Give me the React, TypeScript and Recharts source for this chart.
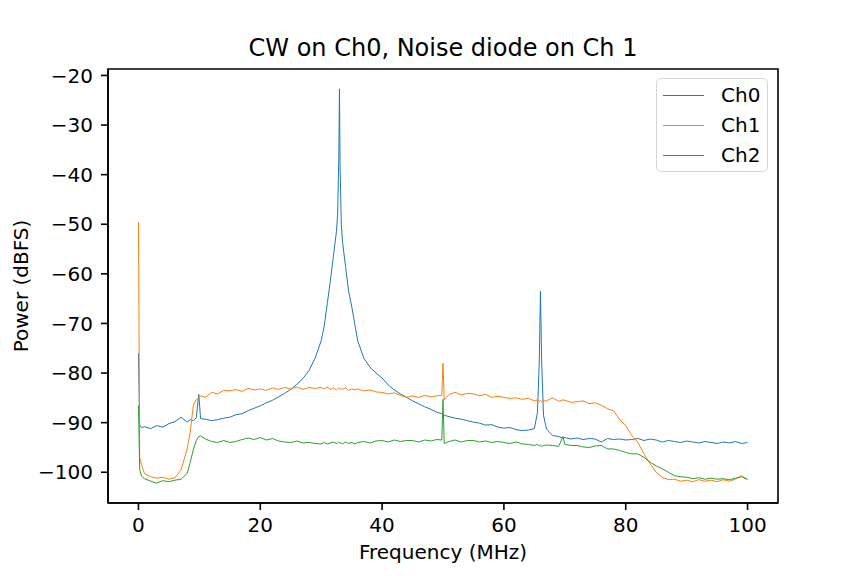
import { Label, Legend, Line, LineChart, ReferenceArea, XAxis, YAxis } from "recharts";

// frequency grid (MHz), denser around the narrow spikes
const freq = [
  0, 0.2, 0.5, 1, 2, 3, 4, 5, 6, 7, 8, 8.5, 9, 9.5, 9.9, 10.2,
  11, 12, 13, 14, 15, 16, 17, 18, 19, 20, 21, 22, 23, 24, 25, 26, 27, 28, 29, 30,
  30.5, 31, 31.5, 32, 32.5, 32.7, 32.9, 33, 33.1, 33.3, 33.5, 34, 34.5, 35, 35.5, 36,
  37, 38, 39, 40, 41, 42, 43, 44, 45, 46, 47, 48, 49,
  49.8, 50, 50.2,
  51, 52, 53, 54, 55, 56, 57, 58, 59, 60, 61, 62, 63, 64, 65,
  65.5, 65.8, 66, 66.2, 66.5,
  67, 68, 69, 69.7,
  70, 71, 72, 73, 74, 75, 76, 77, 78, 79, 80, 81, 82, 83, 84, 85, 86, 87, 88, 89, 90,
  91, 92, 93, 94, 95, 96, 97, 98, 99, 100
];

const ch0 = [
  -76, -90.5, -91, -90.8, -91.2, -90.6, -90.9, -90.2, -89.8, -88.9, -89.9, -89.4, -89.6, -89.0, -84.3, -89.2,
  -89.3, -89.6, -89.4, -89.1, -88.9, -88.4, -88.2, -87.6, -87.1, -86.6, -86.0, -85.5, -84.8, -84.1, -83.3, -82.3, -81.1, -79.5, -77.0, -73.5,
  -70.5, -66, -61.5, -56.5, -51.5, -48, -36, -22.7, -38, -50, -53.5, -58.5, -63.5, -66.5, -70, -73.5,
  -77, -78.8, -80.0, -81.0, -82.4, -83.4, -84.2, -84.9, -85.6, -86.2, -86.8, -87.3, -87.9,
  -88.2, -88.4, -88.5,
  -88.8, -89.1, -89.3, -89.6, -89.9, -90.1, -90.5, -90.4, -90.9, -91.1, -91.0, -91.4, -91.6, -91.5, -91.2,
  -88, -78, -63.5, -78, -88.5,
  -91.3, -92.6, -92.8, -93.1,
  -93.0, -93.3, -93.1, -93.4, -93.2, -93.3, -93.9, -93.2, -93.4, -93.3, -93.5, -93.4, -93.2, -93.6, -93.3, -93.5, -93.9, -93.6, -93.8, -94.0, -93.7,
  -93.9, -94.1, -93.8, -94.0, -94.2, -93.9, -94.1, -93.8, -94.2, -94.0
];

const ch1 = [
  -49.6, -97, -98.5, -100.3, -100.9, -101.2, -101.0, -101.4, -101.1, -99.5, -95.3, -91.9, -86.6, -85.3, -85.0, -84.6,
  -84.9, -83.9, -84.2, -83.5, -83.6, -83.3, -83.7, -83.1, -83.4, -83.2, -83.5, -83.0, -83.3, -82.9, -83.2, -82.8, -83.3, -82.9, -83.1, -82.9,
  -83.2, -82.8, -83.3, -83.0, -83.4, -83.2, -83.0, -83.1, -83.3, -83.1, -83.3, -83.0, -83.5, -83.2, -83.4, -83.2,
  -83.6, -83.4, -83.8, -83.9, -84.2, -84.0, -84.5, -84.9, -84.6, -84.9, -84.5, -84.8, -84.6,
  -84.5, -78.0, -85.4,
  -84.3, -83.9, -84.4, -84.1, -84.2, -84.6, -84.3, -84.9, -84.7, -84.9, -85.1, -85.0, -85.3, -85.1, -85.6,
  -85.4, -85.7, -85.5, -85.8, -85.6,
  -85.6, -85.0, -85.7, -85.4,
  -85.5, -85.9, -85.8, -85.6, -86.2, -86.0, -86.5, -87.2, -87.6, -89.4, -90.6, -92.6, -94.0, -96.3, -98.3, -100.0, -101.0, -101.5, -101.4, -101.8, -101.6,
  -101.9, -101.5, -101.8, -101.6, -101.9, -101.5, -101.8, -101.4, -100.7, -101.5
];

const ch2 = [
  -86.5, -99.5, -100.8, -101.3, -101.8, -102.2, -101.7, -101.9, -101.6, -101.4, -100.2, -98.0, -95.5, -93.6, -92.8, -92.7,
  -93.3, -93.8, -94.0, -93.6, -94.0, -93.8, -93.4, -93.1, -93.4, -93.0, -93.5, -93.2, -93.7, -93.9, -94.0, -93.7, -94.1, -94.0, -94.2, -94.3,
  -94.0, -94.3, -94.1, -93.9, -94.2, -94.1, -93.9, -94.0, -94.2, -94.1, -94.3, -93.9, -94.2, -94.0, -94.3, -94.0,
  -93.8, -94.1, -93.7, -93.6, -93.9, -93.5, -93.8, -93.6, -93.6, -93.9, -93.5, -93.7, -93.4,
  -93.5, -85.3, -94.2,
  -93.8, -93.5, -93.9, -93.6, -93.6, -93.9, -93.7, -94.0, -93.8, -94.0, -94.2, -93.9, -94.3, -94.4, -94.6,
  -94.4, -94.7, -94.5, -94.8, -94.6,
  -94.5, -94.6, -94.8, -92.8,
  -94.4, -94.6, -94.6, -94.9, -95.0, -94.7, -94.6, -95.3, -95.3, -95.6, -96.0, -96.3, -96.3, -97.0, -98.0, -98.7, -99.3, -100.0, -100.7, -100.9, -101.0,
  -101.3, -101.1, -101.4, -101.2, -101.4, -101.3, -101.5, -101.2, -100.9, -101.4
];

const seriesNames = ["Ch0", "Ch1", "Ch2"];
const seriesColors = ["#1f77b4", "#ff7f0e", "#2ca02c"];
const xTicks = [0, 20, 40, 60, 80, 100];
const yTicks = [-100, -90, -80, -70, -60, -50, -40, -30, -20];

const data = freq.map((f, i) => ({ f, Ch0: ch0[i], Ch1: ch1[i], Ch2: ch2[i] }));

const minus = (v: number) => String(v).replace("-", "\u2212");

function LegendBox() {
  return (
    <div
      style={{
        width: 112,
        height: 94,
        border: "1.5px solid #d6d6d6",
        borderRadius: 5,
        background: "#fff",
        boxSizing: "border-box",
        paddingTop: 1
      }}
    >
      {seriesNames.map((name, i) => (
        <div key={name} style={{ display: "flex", alignItems: "center", height: 30 }}>
          <div style={{ marginLeft: 6, width: 41, height: 0, borderTop: `1.5px solid ${seriesColors[i]}` }} />
          <span style={{ marginLeft: 17, fontSize: 20, color: "#000" }}>{name}</span>
        </div>
      ))}
    </div>
  );
}

export default function App() {
  return (
    <div
      style={{
        position: "absolute",
        left: 0,
        top: 0,
        width: 864,
        height: 576,
        background: "#fff",
        fontFamily: "'DejaVu Sans', sans-serif"
      }}
    >
      <div
        style={{
          position: "absolute",
          left: 108,
          width: 670,
          top: 36,
          fontSize: 24,
          lineHeight: "24px",
          textAlign: "center",
          color: "#000",
          zIndex: 2
        }}
      >
        CW on Ch0, Noise diode on Ch 1
      </div>
      <LineChart width={864} height={576} data={data} margin={{ top: 69, right: 86, bottom: 0, left: 0 }}>
        <XAxis
          dataKey="f"
          type="number"
          domain={[-5, 105]}
          ticks={xTicks}
          allowDataOverflow
          height={73}
          tickSize={7}
          tickMargin={8}
          tick={{ fill: "#000", fontSize: 20 }}
          tickLine={{ stroke: "#000", strokeWidth: 1.6 }}
          axisLine={{ stroke: "#000", strokeWidth: 1.6 }}
        >
          <Label value="Frequency (MHz)" position="insideBottom" offset={17} style={{ fill: "#000", fontSize: 20 }} />
        </XAxis>
        <YAxis
          type="number"
          domain={[-106.2, -18.7]}
          ticks={yTicks}
          allowDataOverflow
          width={108}
          tickSize={7}
          tickMargin={8}
          tickFormatter={minus}
          tick={{ fill: "#000", fontSize: 20 }}
          tickLine={{ stroke: "#000", strokeWidth: 1.6 }}
          axisLine={{ stroke: "#000", strokeWidth: 1.6 }}
        >
          <Label
            value="Power (dBFS)"
            angle={-90}
            position="insideLeft"
            offset={21}
            style={{ fill: "#000", fontSize: 20, textAnchor: "middle" }}
          />
        </YAxis>
        <ReferenceArea x1={-5} x2={105} y1={-106.2} y2={-18.7} fill="none" stroke="#000" strokeWidth={1.6} />
        {seriesNames.map((name, i) => (
          <Line
            key={name}
            dataKey={name}
            type="linear"
            stroke={seriesColors[i]}
            strokeWidth={1}
            dot={false}
            isAnimationActive={false}
          />
        ))}
        <Legend
          layout="vertical"
          align="center"
          verticalAlign="middle"
          content={() => <LegendBox />}
          wrapperStyle={{ left: 656, top: 78, width: 112, height: 94 }}
        />
      </LineChart>
    </div>
  );
}
